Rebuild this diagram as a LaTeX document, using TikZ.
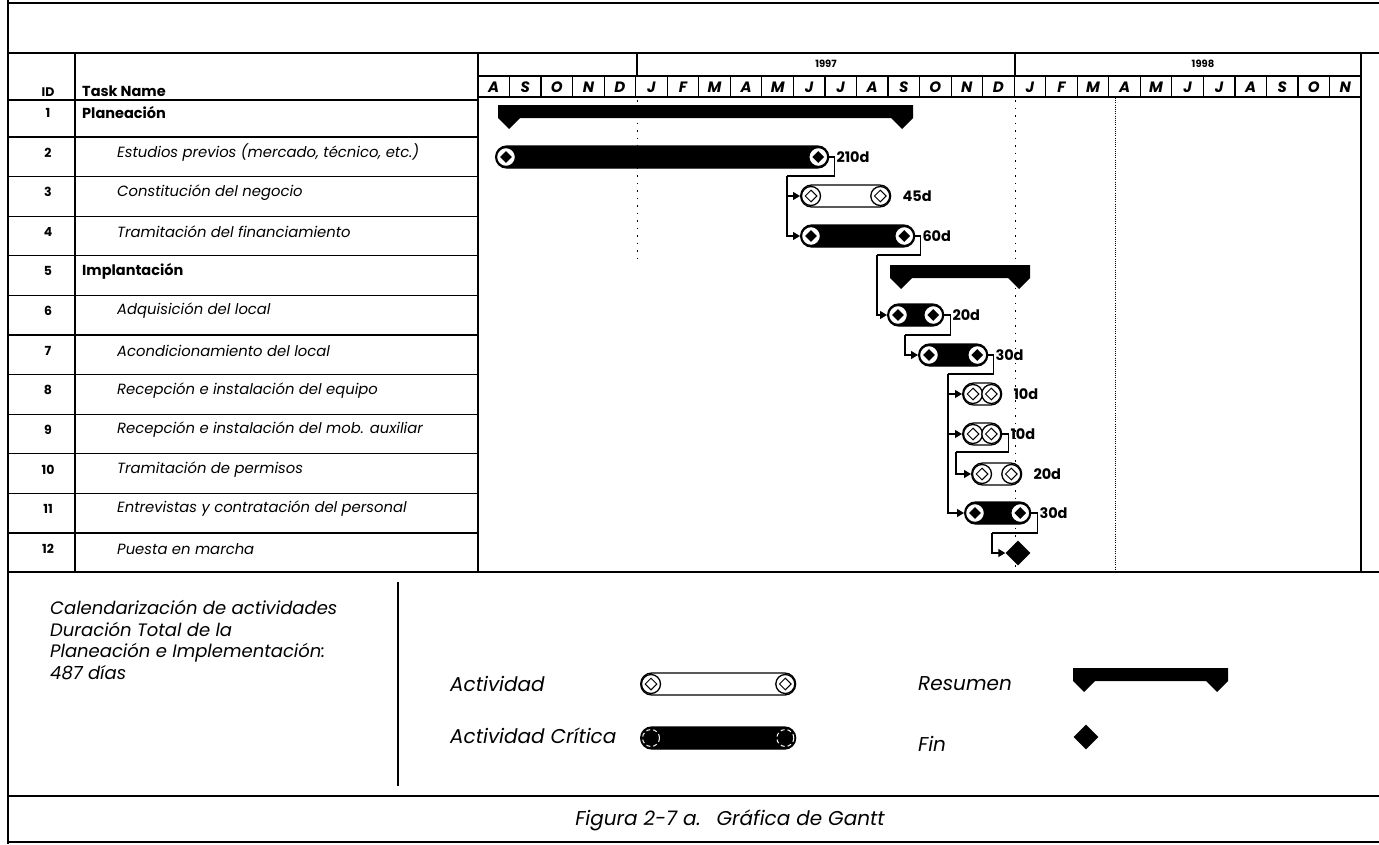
\documentclass[tikz,border=0pt]{standalone}
\usepackage{fontspec}
\setmainfont{Poppins}
\usetikzlibrary{arrows.meta,shapes.geometric}

\tikzset{
  rule/.style={line width=1.5pt},
  thinrule/.style={line width=1.2pt},
  link/.style={line width=1.3pt},
  arr/.style={link,-{Triangle[length=7pt,width=8pt]}},
  crit/.style={draw,line width=1.3pt,fill=black,rounded corners=11pt,minimum height=22pt,inner sep=0pt,anchor=west},
  norm/.style={crit,fill=white},
  endc/.style={circle,draw,fill=white,line width=1.3pt,minimum size=19pt,inner sep=0pt},
  dmdb/.style={diamond,aspect=1,fill=black,minimum size=12pt,inner sep=0pt},
  dmdw/.style={diamond,aspect=1,draw,fill=white,line width=1pt,minimum size=12pt,inner sep=0pt},
  fin/.style={diamond,aspect=1,fill=black,minimum size=25pt,inner sep=0pt},
  idt/.style={font=\fontsize{12.5}{14}\selectfont\bfseries,inner sep=0pt},
  sumt/.style={font=\fontsize{14.5}{16}\selectfont\bfseries,anchor=west,inner sep=0pt},
  subt/.style={font=\fontsize{14.8}{16}\selectfont\itshape,anchor=west,inner sep=0pt},
  dur/.style={font=\fontsize{14.5}{16}\selectfont\bfseries,anchor=west,inner sep=0pt},
  mon/.style={font=\fontsize{15}{16}\selectfont\bfseries\itshape,inner sep=0pt},
  yr/.style={font=\fontsize{10}{12}\selectfont\bfseries,inner sep=0pt},
  legt/.style={font=\fontsize{20}{22}\selectfont\itshape,anchor=west,inner sep=0pt,align=left},
  notet/.style={font=\fontsize{18}{21.7}\selectfont\itshape,anchor=north west,inner sep=0pt,align=left},
  sparse/.style={line width=1pt,dash pattern=on 1.5pt off 6pt},
  dense/.style={line width=1pt,dash pattern=on 1pt off 1.2pt},
}

% task bar: name, left x, right x, centre y, bar style, diamond style
\newcommand\gbar[6]{%
  \node[#5,minimum width={(#3)-(#2)}] (#1) at (#2,#4) {};
  \node[endc] (#1-a) at ([xshift=11pt]#1.west) {};
  \node[#6] (#1-da) at (#1-a) {};
  \node[endc] (#1-b) at ([xshift=-11pt]#1.east) {};
  \node[#6] (#1-db) at (#1-b) {};
}
% summary bar: left x, right x, top y
\newcommand\gsummary[3]{%
  \fill (#1,#3) -- (#2,#3) -- (#2,#3+13) -- (#2-11,#3+24) -- (#2-22,#3+13)
     -- (#1+22,#3+13) -- (#1+11,#3+24) -- (#1,#3+13) -- cycle;
}

\begin{document}
\begin{tikzpicture}[x=1pt,y=-1pt]
\useasboundingbox (0,0) rectangle (1379,844);

% ---- frame and table grid ----
\draw[rule] (8,0) -- (8,844);
\draw[rule] (8,3) -- (1379,3);
\draw[rule] (8,53) -- (1379,53);
\draw[rule] (8,572) -- (1379,572);
\draw[rule] (8,796) -- (1379,796);
\draw[rule] (8,842) -- (1379,842);
\draw[thinrule] (75,53) -- (75,572);
\draw[rule] (478,53) -- (478,572);
\draw[rule] (1361,53) -- (1361,572);
\draw[thinrule] (8,100) -- (478,100);
\foreach \k in {0,...,10} \draw[thinrule] (8,{137+39.6*\k}) -- (478,{137+39.6*\k});

% ---- timescale ----
\draw[thinrule] (478,76) -- (1361,76);
\draw[thinrule] (478,97) -- (1361,97);
\draw[thinrule] (637,53) -- (637,76);
\draw[thinrule] (1015,53) -- (1015,76);
\node[yr] (y97) at (826,64) {1997};
\node[yr] (y98) at (1203,64) {1998};
\foreach \i in {1,...,27} \draw[thinrule] ({478+\i*31.54},76) -- ({478+\i*31.54},97);
\foreach \m [count=\i from 0] in {A,S,O,N,D,J,F,M,A,M,J,J,A,S,O,N,D,J,F,M,A,M,J,J,A,S,O,N}
  \node[mon] (m\i) at ({478+(\i+0.5)*31.54},87) {\m};

% ---- gridlines in the chart ----
\draw[sparse] (637,100) -- (637,262);
\draw[sparse] (1015,100) -- (1015,570);
\draw[dense] (1115,98) -- (1115,570);

% ---- table text ----
\node[idt] (hid) at (48,92) {ID};
\node[sumt] (hname) at (82,91) {Task Name};
\foreach \r/\t/\s/\x in {1/{Planeación}/sumt/82,
  2/{Estudios previos (mercado, técnico, etc.)}/subt/117,
  3/{Constitución del negocio}/subt/117,
  4/{Tramitación del financiamiento}/subt/117,
  5/{Implantación}/sumt/82,
  6/{Adquisición del local}/subt/117,
  7/{Acondicionamiento del local}/subt/117,
  8/{Recepción e instalación del equipo}/subt/117,
  9/{Recepción e instalación del mob. auxiliar}/subt/117,
  10/{Tramitación de permisos}/subt/117,
  11/{Entrevistas y contratación del personal}/subt/117,
  12/{Puesta en marcha}/subt/117}{
  \node[idt] (id\r) at (48,{113+39.6*(\r-1)}) {\r};
  \node[\s] (name\r) at (\x,{113+39.6*(\r-1)}) {\t};
}

% ---- summary bars ----
\gsummary{498}{913}{105}
\gsummary{890}{1030}{265}

% ---- task bars ----
\gbar{t2}{495}{828}{157}{crit}{dmdb}
\gbar{t3}{800}{890}{196}{norm}{dmdw}
\gbar{t4}{800}{914}{236}{crit}{dmdb}
\gbar{t6}{887}{943}{315}{crit}{dmdb}
\gbar{t7}{918}{987}{355}{crit}{dmdb}
\gbar{t8}{962}{1001}{394}{norm}{dmdw}
\gbar{t9}{962}{1001}{434}{norm}{dmdw}
\gbar{t10}{971}{1021}{474}{norm}{dmdw}
\gbar{t11}{964}{1030}{513}{crit}{dmdb}
\node[fin] (t12) at (1018,553) {};

% ---- durations ----
\node[dur] (d2) at ([xshift=7pt]t2.east) {210d};
\node[dur] (d3) at ([xshift=11pt]t3.east) {45d};
\node[dur] (d4) at ([xshift=7pt]t4.east) {60d};
\node[dur] (d6) at ([xshift=8pt]t6.east) {20d};
\node[dur] (d7) at ([xshift=7pt]t7.east) {30d};
\node[dur] (d8) at ([xshift=11pt]t8.east) {10d};
\node[dur] (d9) at ([xshift=8pt]t9.east) {10d};
\node[dur] (d10) at ([xshift=11pt]t10.east) {20d};
\node[dur] (d11) at ([xshift=8pt]t11.east) {30d};

% ---- dependencies ----
\coordinate (j2) at (787,176);
\coordinate (j4) at (877,255);
\coordinate (j6) at (905,335);
\coordinate (j7) at (948,374);
\coordinate (j9) at (956,452);
\coordinate (j11) at (992,533);
\draw[link] (t2.east) -- ++(5,0) |- (j2);
\draw[arr] (j2) |- (t3.west);
\draw[arr] (j2) |- (t4.west);
\draw[link] (t4.east) -- ++(5,0) |- (j4);
\draw[arr] (j4) |- (t6.west);
\draw[link] (t6.east) -- ++(6,0) |- (j6);
\draw[arr] (j6) |- (t7.west);
\draw[link] (t7.east) -- ++(5,0) |- (j7);
\draw[arr] (j7) |- (t8.west);
\draw[arr] (j7) |- (t9.west);
\draw[arr] (j7) |- (t11.west);
\draw[link] (t9.east) -- ++(6,0) |- (j9);
\draw[arr] (j9) |- (t10.west);
\draw[link] (t11.east) -- ++(6,0) |- (j11);
\draw[arr] (j11) |- (t12.west);

% ---- legend ----
\node[notet] (note) at (50,600)
  {Calendarización de actividades\\Duración Total de la\\Planeación e Implementación:\\487 días};
\draw[rule] (398,582) -- (398,786);
\node[legt] (lact) at (450,684) {Actividad};
\gbar{lb1}{640}{795}{684}{norm}{dmdw}
\node[legt] (lcrit) at (450,736) {Actividad Crítica};
\node[crit,minimum width=155] (lb2) at (640,738) {};
\draw[white,line width=1pt,dash pattern=on 4pt off 3pt] ([xshift=11pt]lb2.west) circle (8.5);
\draw[white,line width=1pt,dash pattern=on 4pt off 3pt] ([xshift=-11pt]lb2.east) circle (8.5);
\node[legt] (lres) at (918,684) {Resumen};
\gsummary{1073}{1228}{668}
\node[legt] (lfin) at (918,744) {Fin};
\node[fin] (lfd) at (1086,737) {};

% ---- caption ----
\node[font=\fontsize{20}{22}\selectfont\itshape,inner sep=0pt] (cap) at (730,820)
  {Figura 2-7 a.\enspace\ Gráfica de Gantt};
\end{tikzpicture}
\end{document}
